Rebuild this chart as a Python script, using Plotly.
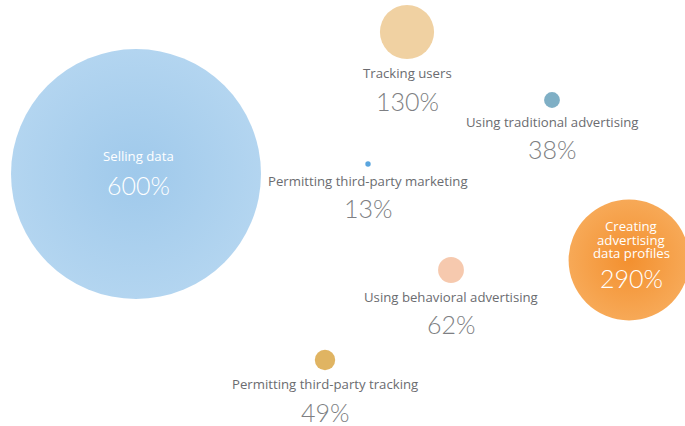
import plotly.graph_objects as go

# ---- data ----
categories = [
    "Selling data",
    "Tracking users",
    "Using traditional advertising",
    "Permitting third-party marketing",
    "Creating advertising data profiles",
    "Using behavioral advertising",
    "Permitting third-party tracking",
]
values = [600, 130, 38, 13, 290, 62, 49]
value_labels = ["600%", "130%", "38%", "13%", "290%", "62%", "49%"]

# ---- layout (bubble placement in the canvas, pixels) ----
pos_x = [136, 407, 552, 368, 629, 451, 325]
pos_y = [174, 32, 100, 164, 260, 270, 360]
label_inside = [True, False, False, False, True, False, False]
inside_label_lines = {0: ["Selling data"], 4: ["Creating", "advertising", "data profiles"]}
edge_colors = ["#B3D5F0", "#F0D1A2", "#7FAFC5", "#5AA5DE", "#F7A957", "#F6C9AE", "#E0B462"]
center_colors = ["#9FC9EB", "#F0D1A2", "#7FAFC5", "#5AA5DE", "#F3902F", "#F6C9AE", "#E0B462"]

SIZEREF = 2.4  # value units per pixel of diameter
W, H = 685, 426

fig = go.Figure()
for i, (cat, v) in enumerate(zip(categories, values)):
    fig.add_trace(go.Scatter(
        x=[pos_x[i]], y=[pos_y[i]], mode="markers", name=cat,
        marker=dict(size=[v], sizemode="diameter", sizeref=SIZEREF, opacity=1,
                    color=edge_colors[i], line=dict(width=0),
                    gradient=dict(type="radial", color=center_colors[i])),
        hovertemplate=f"{cat}: {value_labels[i]}<extra></extra>",
        showlegend=False,
    ))

LABEL_FONT = "Open Sans, Noto Sans, sans-serif"
PCT_FONT = "Lato, Open Sans, sans-serif"
label_gray = "#6B6C70"
pct_gray = "#7E7F83"
LABEL_SIZE = 13.2
PCT_SIZE = 25

annotations = []
for i, v in enumerate(values):
    r = v / SIZEREF / 2
    if label_inside[i]:
        lines = inside_label_lines[i]
        if i == 0:
            first_y, py = pos_y[i] - 18, pos_y[i] + 11
        else:
            first_y, py = pos_y[i] - 34, pos_y[i] + 18
        for k, line in enumerate(lines):
            annotations.append(dict(x=pos_x[i] + 2, y=first_y + 13.5 * k, text=line, showarrow=False,
                                    font=dict(family=LABEL_FONT, size=LABEL_SIZE, color="white"),
                                    xanchor="center", yanchor="middle"))
        annotations.append(dict(x=pos_x[i] + 2, y=py, text=value_labels[i], showarrow=False,
                                font=dict(family=PCT_FONT, size=PCT_SIZE, color="white", weight=300),
                                xanchor="center", yanchor="middle"))
    else:
        ly = pos_y[i] + r + 14
        py = ly + 27.5
        annotations.append(dict(x=pos_x[i], y=ly, text=categories[i], showarrow=False,
                                font=dict(family=LABEL_FONT, size=LABEL_SIZE, color=label_gray),
                                xanchor="center", yanchor="middle"))
        annotations.append(dict(x=pos_x[i], y=py, text=value_labels[i], showarrow=False,
                                font=dict(family=PCT_FONT, size=PCT_SIZE, color=pct_gray, weight=300),
                                xanchor="center", yanchor="middle"))

fig.update_layout(
    width=W, height=H,
    margin=dict(l=0, r=0, t=0, b=0),
    paper_bgcolor="white", plot_bgcolor="white",
    xaxis=dict(range=[0, W], visible=False, fixedrange=True),
    yaxis=dict(range=[H, 0], visible=False, fixedrange=True),
    annotations=annotations,
)

fig.write_html("out.html", config={"displayModeBar": False},
               post_script="document.body.style.margin='0';document.body.style.overflow='hidden';")
